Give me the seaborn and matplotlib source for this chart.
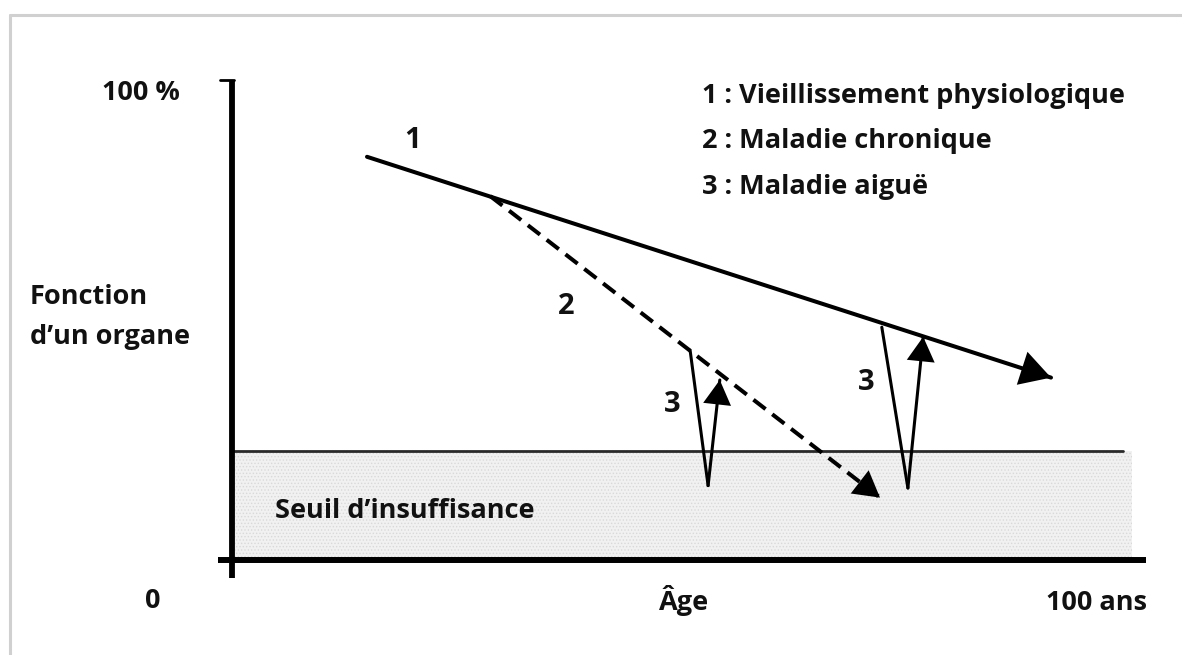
import numpy as np
import pandas as pd
import matplotlib
matplotlib.use("Agg")
import matplotlib.pyplot as plt
import seaborn as sns
from matplotlib.lines import Line2D

sns.set_theme(style="white")
plt.rcParams['font.family'] = ['Open Sans', 'DejaVu Sans']

# Schematic data (age in years, organ function in %)
age_1 = [15, 91]            # 1 : physiological ageing
func_1 = [84, 38]
age_2 = [28.7, 72]          # 2 : chronic disease
func_2 = [75.8, 13]
dip_a_age = [50.9, 52.9, 54.2]   # 3 : acute disease on chronic
dip_a_func = [43.7, 15.5, 37.5]
dip_b_age = [72.2, 75.1, 76.8]   # 3 : acute disease on ageing
dip_b_func = [48.5, 15.0, 46.5]
threshold = 22.7

legend_lines = ["1 : Vieillissement physiologique",
                "2 : Maladie chronique",
                "3 : Maladie aiguë"]

W, H = 1182, 655
fig = plt.figure(figsize=(W / 100, H / 100), dpi=100)
ax = fig.add_axes([232 / W, (H - 560) / H, 900 / W, 480 / H])
ax.set_xlim(0, 100)
ax.set_ylim(0, 100)
ax.axis('off')

# outer frame (left + top edges)
fig.add_artist(Line2D([10 / W, 10 / W], [0, 1 - 15 / H], color='#d0d0d0', lw=2.2))
fig.add_artist(Line2D([10 / W, 1], [1 - 15 / H, 1 - 15 / H], color='#d0d0d0', lw=2.2))

# insufficiency zone
plt.rcParams['hatch.linewidth'] = 0.6
ax.fill_between([0, 100], 0, threshold, facecolor='#f1f1f1', edgecolor='#d9d9d9',
                hatch='.....', lw=0, zorder=0)
ax.plot([0, 99.0], [threshold, threshold], color='#2a2a2a', lw=2, zorder=1)

# axes
ax.plot([-1.6, 101.6], [0, 0], color='black', lw=4.3, clip_on=False, solid_capstyle='butt')
ax.plot([0, 0], [-3.8, 100], color='black', lw=4.2, clip_on=False, solid_capstyle='butt')
ax.plot([-1.3, 0.2], [100, 100], color='black', lw=2, clip_on=False)


def head(xs, ys, ms, frac=0.5):
    # filled arrow head only; the shaft is the seaborn line underneath
    x0 = xs[-2] + frac * (xs[-1] - xs[-2])
    y0 = ys[-2] + frac * (ys[-1] - ys[-2])
    ax.annotate('', xy=(xs[-1], ys[-1]), xytext=(x0, y0),
                arrowprops=dict(arrowstyle='-|>,head_length=0.42,head_width=0.24',
                                color='black', lw=0, mutation_scale=ms,
                                shrinkA=0, shrinkB=0))


# curve 1
df1 = pd.DataFrame({'age': age_1, 'f': func_1})
sns.lineplot(data=df1, x='age', y='f', ax=ax, color='black', lw=2.9, sort=False)
head(age_1, func_1, 52)

# curve 2 (dashed)
df2 = pd.DataFrame({'age': age_2, 'f': func_2})
sns.lineplot(data=df2, x='age', y='f', ax=ax, color='black', lw=2.9, sort=False,
             linestyle=(0, (3.8, 2.1)))
head(age_2, func_2, 44)

# acute dips
for xs, ys in [(dip_a_age, dip_a_func), (dip_b_age, dip_b_func)]:
    sns.lineplot(x=xs[:2], y=ys[:2], ax=ax, color='black', lw=2.2, sort=False)
    sns.lineplot(x=xs[1:], y=ys[1:], ax=ax, color='black', lw=2.2, sort=False)
    head(xs, ys, 42)

ax.set_xlabel('')
ax.set_ylabel('')

kw = dict(fontsize=19.5, fontweight='bold', color='#111111')

ax.text(-5.8, 97.3, '100 %', ha='right', va='center', **kw)
ax.text(-8.8, -10.0, '0', ha='center', va='baseline', **kw)
ax.text(50.2, -10.4, 'Âge', ha='center', va='baseline', **kw)
ax.text(96.1, -10.4, '100 ans', ha='center', va='baseline', **kw)
ax.text(4.8, 8.8, 'Seuil d\u2019insuffisance', ha='left', va='baseline', **kw)

t2 = ax.text(-4.7, 46.5, 'd\u2019un organe', ha='right', va='center', **kw)
fig.canvas.draw()
left_px = t2.get_window_extent().x0
left_age = ax.transData.inverted().transform((left_px, 0))[0]
ax.text(left_age, 54.8, 'Fonction', ha='left', va='center', **kw)

nk = dict(fontsize=21, fontweight='bold', color='#111111', ha='center', va='center')
ax.text(20.1, 87.5, '1', **nk)
ax.text(37.1, 52.8, '2', **nk)
ax.text(48.9, 32.5, '3', **nk)
ax.text(70.5, 36.9, '3', **nk)

for i, s in enumerate(legend_lines):
    ax.text(52.2, 95.3 - i * 9.55, s, ha='left', va='baseline', **kw)

fig.savefig('out.png', dpi=100, facecolor='white')
